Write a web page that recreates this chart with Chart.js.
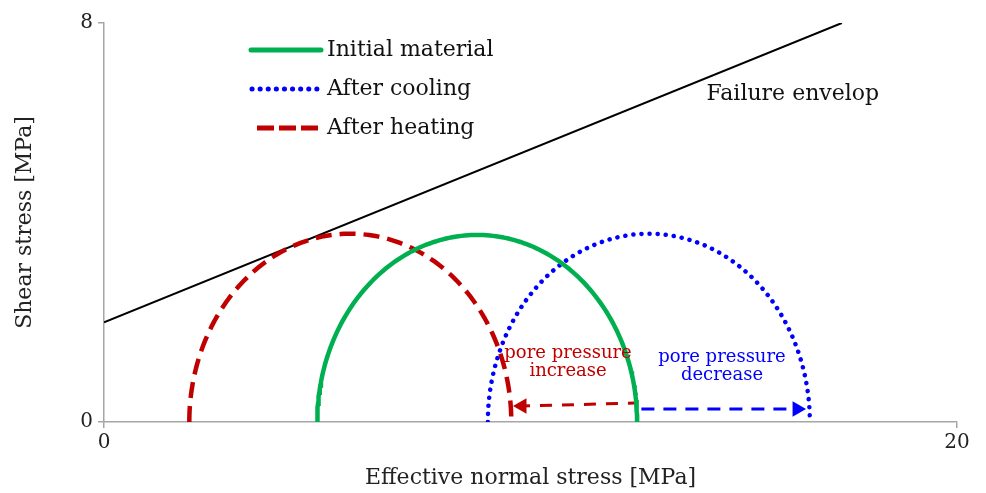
<!DOCTYPE html>
<html>
<head>
<meta charset="utf-8">
<script src="https://cdn.jsdelivr.net/npm/chart.js@4.4.1/dist/chart.umd.min.js"></script>
<style>
html,body{margin:0;padding:0;background:#fff;}
#wrap{width:986px;height:493px;}
</style>
</head>
<body>
<div id="wrap"><canvas id="mohr"></canvas></div>
<script>
const SERIF = "'DejaVu Serif', serif";

// Mohr circles: minor / major principal effective stress [MPa]
const circleNames = ["Initial material", "After cooling", "After heating"];
const sigma3 = [5.0, 9.0, 2.0];
const sigma1 = [12.5, 16.55, 9.55];
const circleColors = ["#00b050", "#0000ff", "#c00000"];

// failure envelope end points
const envelopeX = [0, 17.3];
const envelopeY = [2, 8];

// pore pressure shift arrows (head on the first point of the heating one)
const heatArrowX = [9.8, 12.45];
const heatArrowY = [0.32, 0.38];
const coolArrowX = [12.6, 16.25];
const coolArrowY = [0.26, 0.26];

const xTicks = [0, 20];
const yTicks = [0, 8];

// upper half of a Mohr circle between sigma3 and sigma1
function semicircle(s3, s1){
  const c = (s1 + s3) / 2, r = (s1 - s3) / 2;
  const pts = [];
  for(let i = 0; i <= 160; i++){
    const a = Math.PI * i / 160;
    pts.push({x: c - r * Math.cos(a), y: r * Math.sin(a)});
  }
  return pts;
}

function pairs(xs, ys){
  return xs.map((x, i) => ({x, y: ys[i]}));
}

const circleStyles = [
  {borderWidth: 4.5, borderDash: [], borderCapStyle: "butt"},
  {borderWidth: 4.5, borderDash: [0.1, 8], borderCapStyle: "round"},
  {borderWidth: 4.5, borderDash: [16, 8], borderCapStyle: "butt"}
];

const circleSets = circleNames.map((name, i) => Object.assign({
  label: name,
  data: semicircle(sigma3[i], sigma1[i]),
  borderColor: circleColors[i],
  showLine: true,
  pointRadius: 0,
  tension: 0
}, circleStyles[i]));

const datasets = [
  ...circleSets,
  {
    label: "Failure envelop",
    data: pairs(envelopeX, envelopeY),
    borderColor: "#000",
    borderWidth: 2,
    showLine: true,
    pointRadius: 0
  },
  {
    label: "pore pressure increase",
    data: pairs(heatArrowX, heatArrowY),
    borderColor: "#c00000",
    backgroundColor: "#c00000",
    borderWidth: 3,
    borderDash: [12, 10],
    borderDashOffset: 4,
    showLine: true,
    pointStyle: "triangle",
    pointRadius: [9, 0],
    pointRotation: -90,
    pointBorderWidth: 0
  },
  {
    label: "pore pressure decrease",
    data: pairs(coolArrowX, coolArrowY),
    borderColor: "#0000ff",
    backgroundColor: "#0000ff",
    borderWidth: 3,
    borderDash: [13, 9],
    showLine: true,
    pointStyle: "triangle",
    pointRadius: [0, 9],
    pointRotation: 90,
    pointBorderWidth: 0
  }
];

// text notes placed in data coordinates
const notes = [
  {lines: ["pore pressure", "increase"], x: 10.88, y: 1.38, color: "#c00000", size: 18, gap: 18},
  {lines: ["pore pressure", "decrease"], x: 14.49, y: 1.30, color: "#0000ff", size: 18, gap: 18},
  {lines: ["Failure envelop"], x: 16.15, y: 6.57, color: "#111", size: 22, gap: 0}
];

const notesPlugin = {
  id: "notes",
  afterDatasetsDraw(chart){
    const {ctx, scales:{x, y}} = chart;
    ctx.save();
    ctx.textAlign = "center";
    ctx.textBaseline = "middle";
    notes.forEach(n => {
      ctx.font = n.size + "px " + SERIF;
      ctx.fillStyle = n.color;
      const px = x.getPixelForValue(n.x);
      const py = y.getPixelForValue(n.y);
      n.lines.forEach((t, k) => ctx.fillText(t, px, py + k * n.gap));
    });
    ctx.restore();
  }
};

// legend with line samples for the three circles
const legendPlugin = {
  id: "lineLegend",
  afterDraw(chart){
    const ctx = chart.ctx;
    const rows = [
      {y: 50, x0: 251, x1: 321},
      {y: 89, x0: 252, x1: 318},
      {y: 128, x0: 257, x1: 318}
    ];
    ctx.save();
    rows.forEach((r, i) => {
      const ds = chart.data.datasets[i];
      ctx.strokeStyle = ds.borderColor;
      ctx.lineWidth = 5;
      ctx.lineCap = i === 2 ? "butt" : "round";
      ctx.setLineDash(i === 1 ? [0.1, 8] : i === 2 ? [17, 5] : []);
      ctx.beginPath();
      ctx.moveTo(r.x0, r.y);
      ctx.lineTo(r.x1, r.y);
      ctx.stroke();
      ctx.setLineDash([]);
      ctx.fillStyle = "#111";
      ctx.font = "22px " + SERIF;
      ctx.textAlign = "left";
      ctx.textBaseline = "middle";
      ctx.fillText(ds.label, 327, r.y);
    });
    ctx.restore();
  }
};

new Chart(document.getElementById("mohr"), {
  type: "scatter",
  data: {datasets},
  options: {
    responsive: true,
    maintainAspectRatio: false,
    animation: false,
    layout: {padding: {left: 0, right: 29, top: 23, bottom: 0}},
    plugins: {legend: {display: false}, tooltip: {enabled: false}},
    scales: {
      x: {
        type: "linear",
        min: 0,
        max: 20,
        afterBuildTicks: s => { s.ticks = xTicks.map(v => ({value: v})); },
        afterFit: s => { s.height = 71; },
        grid: {drawOnChartArea: false, color: "#a6a6a6", tickLength: 6, lineWidth: 1.5},
        border: {color: "#a6a6a6", width: 1.5},
        ticks: {color: "#222", font: {family: SERIF, size: 20}, padding: 3, maxRotation: 0},
        title: {display: true, text: "Effective normal stress [MPa]", color: "#222",
                font: {family: SERIF, size: 22}, padding: {top: 0, bottom: 2}}
      },
      y: {
        type: "linear",
        min: 0,
        max: 8,
        afterBuildTicks: s => { s.ticks = yTicks.map(v => ({value: v})); },
        afterFit: s => { s.width = 104; },
        grid: {drawOnChartArea: false, color: "#a6a6a6", tickLength: 6, lineWidth: 1.5},
        border: {color: "#a6a6a6", width: 1.5},
        ticks: {color: "#222", font: {family: SERIF, size: 20}, padding: 5},
        title: {display: true, text: "Shear stress [MPa]", color: "#222",
                font: {family: SERIF, size: 22}, padding: {top: 12, bottom: 0}}
      }
    }
  },
  plugins: [notesPlugin, legendPlugin]
});
</script>
</body>
</html>
